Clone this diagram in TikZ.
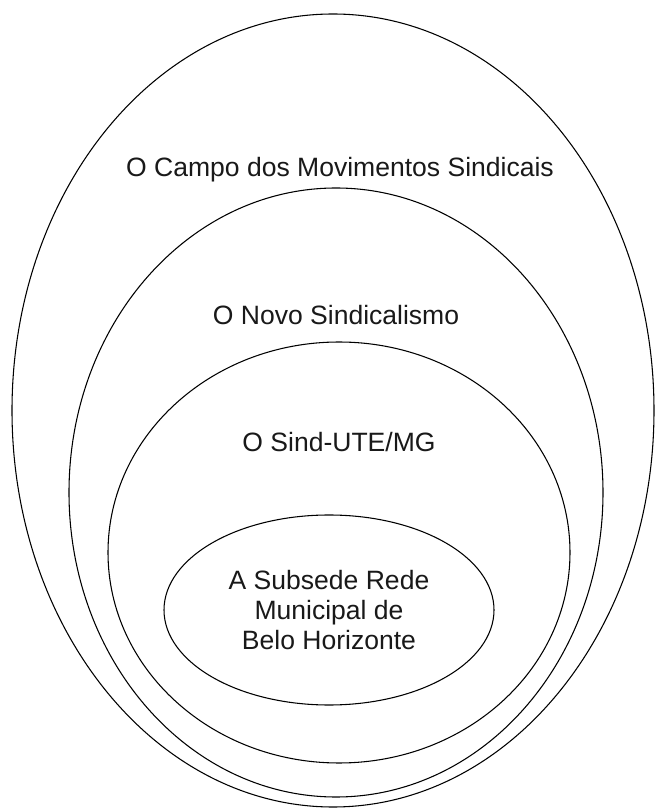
\documentclass[tikz,border=0pt]{standalone}
\usepackage{fontspec}
\setmainfont{Liberation Sans}
\usetikzlibrary{shapes.geometric}
\tikzset{
  ring/.style={ellipse, draw=black, line width=0.8pt, inner sep=0pt},
  lbl/.style={anchor=base, inner sep=0pt, font=\fontsize{19.9}{24}\selectfont, text=black!90}
}
\begin{document}
\begin{tikzpicture}[x=0.75pt,y=0.75pt]
\useasboundingbox (0,0) rectangle (657,808);
\fill[white] (0,0) rectangle (657,808);
\node[ring, minimum width=481.5pt, minimum height=594.75pt] (outer) at (333,397.5) {};
\node[ring, minimum width=400.5pt, minimum height=456.75pt] (novo) at (336,315.5) {};
\node[ring, minimum width=346.5pt, minimum height=315.75pt] (sind) at (339,255.5) {};
\node[ring, minimum width=247.5pt, minimum height=142.5pt] (sub) at (329,198) {};
\node[lbl] (t1) at (340,631) {O Campo dos Movimentos Sindicais};
\node[lbl] (t2) at (336,483.5) {O Novo Sindicalismo};
\node[lbl] (t3) at (339,356) {O Sind-UTE/MG};
\node[lbl] (t4a) at (329,218) {A Subsede Rede};
\node[lbl] (t4b) at (329,188) {Municipal de};
\node[lbl] (t4c) at (329,158) {Belo Horizonte};
\end{tikzpicture}
\end{document}
